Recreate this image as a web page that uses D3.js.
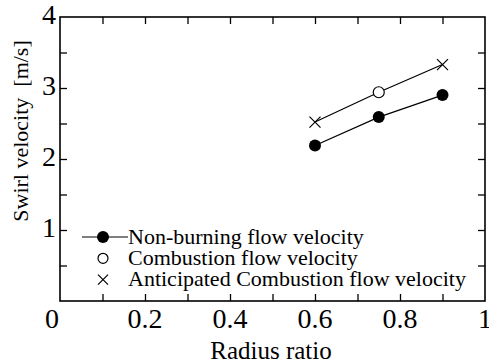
<!DOCTYPE html>
<html>
<head>
<meta charset="utf-8">
<script src="https://cdn.jsdelivr.net/npm/d3@7"></script>
<style>
body { margin:0; background:#fff; }
</style>
</head>
<body>
<svg id="chart"></svg>
<script>
// data
var radius = [0.6, 0.75, 0.9];
var nonBurning = [2.19, 2.59, 2.9];
var combustionX = [0.75];
var combustion = [2.94];
var anticipatedX = [0.6, 0.9];
var anticipated = [2.52, 3.33];
var xTicks = [0, 0.2, 0.4, 0.6, 0.8, 1];
var yTicks = [1, 2, 3, 4];
var legendNames = ["Non-burning flow velocity", "Combustion flow velocity", "Anticipated Combustion flow velocity"];

var screen = {width:489, height:363};
var margins = {left:60, right:4, top:17, bottom:62};
var graph = {
    width: screen.width - margins.left - margins.right,
    height: screen.height - margins.top - margins.bottom
};

var svg = d3.select("#chart")
    .attr("width", screen.width)
    .attr("height", screen.height)
    .attr("font-family", "'Liberation Serif', 'Times New Roman', 'DejaVu Serif', serif");

var xScale = d3.scaleLinear().domain([0,1]).range([0, graph.width]);
var yScale = d3.scaleLinear().domain([0,4]).range([graph.height, 0]);

var target = svg.append("g")
    .attr("transform", "translate(" + margins.left + "," + margins.top + ")");

// inward ticks on all four sides
var minorX = d3.range(0.1, 1, 0.1);
var minorY = d3.range(0.5, 4, 0.5);
var tickLen = 7;

var axB = d3.axisBottom(xScale).tickValues(minorX).tickSize(-tickLen).tickFormat("");
var axT = d3.axisTop(xScale).tickValues(minorX).tickSize(-tickLen).tickFormat("");
var axL = d3.axisLeft(yScale).tickValues(minorY).tickSize(-tickLen).tickFormat("");
var axR = d3.axisRight(yScale).tickValues(minorY).tickSize(-tickLen).tickFormat("");

target.append("g").attr("transform", "translate(0," + graph.height + ")").call(axB);
target.append("g").call(axT);
target.append("g").call(axL);
target.append("g").attr("transform", "translate(" + graph.width + ",0)").call(axR);
target.selectAll(".domain").remove();
target.selectAll(".tick line").attr("stroke", "#000").attr("stroke-width", 1.3);

target.append("rect")
    .attr("width", graph.width)
    .attr("height", graph.height)
    .attr("fill", "none")
    .attr("stroke", "#000")
    .attr("stroke-width", 1.6);

// tick labels
var tickFont = 28;
svg.append("g").selectAll("text")
    .data(xTicks.slice(1))
    .enter()
    .append("text")
    .attr("x", function(d) { return margins.left + xScale(d); })
    .attr("y", 328)
    .attr("text-anchor", "middle")
    .attr("font-size", tickFont)
    .text(function(d) { return d === 1 ? "1" : d3.format(".1f")(d); });

svg.append("g").selectAll("text")
    .data(yTicks)
    .enter()
    .append("text")
    .attr("x", 56)
    .attr("y", function(d) { return margins.top + yScale(d) + 7; })
    .attr("text-anchor", "end")
    .attr("font-size", tickFont)
    .text(function(d) { return d; });

svg.append("text")
    .attr("x", 52)
    .attr("y", 328)
    .attr("text-anchor", "middle")
    .attr("font-size", tickFont)
    .text("0");

// axis titles
svg.append("text")
    .attr("x", 271)
    .attr("y", 359)
    .attr("text-anchor", "middle")
    .attr("font-size", 25)
    .text("Radius ratio");

svg.append("text")
    .attr("transform", "translate(28,131) rotate(-90)")
    .attr("text-anchor", "middle")
    .attr("font-size", 22)
    .text("Swirl velocity\u00a0\u00a0[m/s]");

// lines
var line = d3.line()
    .x(function(d) { return xScale(d[0]); })
    .y(function(d) { return yScale(d[1]); });

var lowerPts = radius.map(function(r, i) { return [r, nonBurning[i]]; });
var upperPts = [[anticipatedX[0], anticipated[0]], [combustionX[0], combustion[0]], [anticipatedX[1], anticipated[1]]];

target.append("path").attr("d", line(lowerPts)).attr("fill", "none").attr("stroke", "#000").attr("stroke-width", 1.2);
target.append("path").attr("d", line(upperPts)).attr("fill", "none").attr("stroke", "#000").attr("stroke-width", 1.2);

target.selectAll(".filled")
    .data(lowerPts)
    .enter()
    .append("circle")
    .attr("cx", function(d) { return xScale(d[0]); })
    .attr("cy", function(d) { return yScale(d[1]); })
    .attr("r", 6)
    .attr("fill", "#000");

target.selectAll(".open")
    .data(combustionX)
    .enter()
    .append("circle")
    .attr("cx", function(d) { return xScale(d); })
    .attr("cy", function(d, i) { return yScale(combustion[i]); })
    .attr("r", 5.5)
    .attr("fill", "#fff")
    .attr("stroke", "#000")
    .attr("stroke-width", 1.2);

var crossPath = function(cx, cy, s) {
    return "M" + (cx - s) + "," + (cy - s) + "L" + (cx + s) + "," + (cy + s) +
        "M" + (cx - s) + "," + (cy + s) + "L" + (cx + s) + "," + (cy - s);
};

target.selectAll(".cross")
    .data(anticipatedX)
    .enter()
    .append("path")
    .attr("d", function(d, i) { return crossPath(xScale(d), yScale(anticipated[i]), 5.5); })
    .attr("stroke", "#000")
    .attr("stroke-width", 1.2)
    .attr("fill", "none");

// legend
var legend = svg.append("g").attr("transform", "translate(103,237)");
var rowH = 21.3;

legend.append("line")
    .attr("x1", -21).attr("x2", 25)
    .attr("stroke", "#000").attr("stroke-width", 1.2);
legend.append("circle").attr("r", 6).attr("fill", "#000");
legend.append("circle").attr("cy", rowH).attr("r", 5)
    .attr("fill", "#fff").attr("stroke", "#000").attr("stroke-width", 1.2);
legend.append("path").attr("d", crossPath(0, rowH * 2, 5))
    .attr("stroke", "#000").attr("stroke-width", 1.2);

legend.selectAll("text")
    .data(legendNames)
    .enter()
    .append("text")
    .attr("x", 25)
    .attr("y", function(d, i) { return i * rowH + 6.5; })
    .attr("font-size", 22)
    .text(function(d) { return d; });
</script>
</body>
</html>
